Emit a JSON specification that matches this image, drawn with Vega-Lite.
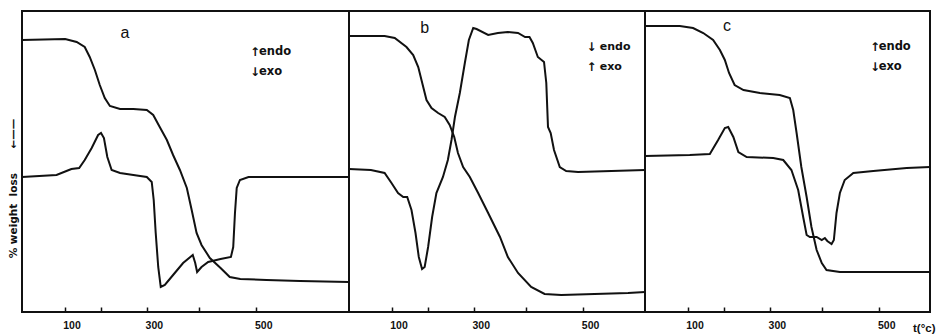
{
  "$schema": "https://vega.github.io/schema/vega-lite/v6.json",
  "autosize": {"type": "pad"},
  "padding": {"left": 7, "top": 10, "right": 0, "bottom": 0},
  "background": "white",
  "spacing": 0,
  "bounds": "flush",
  "config": {
    "view": {"stroke": "#111", "strokeWidth": 2},
    "axis": {"grid": false, "domain": false},
    "text": {"color": "#111"}
  },
  "datasets": {
    "curves": [
      {"p":"a","c":"tg","t":-92,"v":272},{"p":"a","c":"tg","t":102,"v":273},{"p":"a","c":"tg","t":136,"v":270},{"p":"a","c":"tg","t":158,"v":265},{"p":"a","c":"tg","t":171,"v":255},{"p":"a","c":"tg","t":184,"v":242},{"p":"a","c":"tg","t":196,"v":227},{"p":"a","c":"tg","t":208,"v":214},{"p":"a","c":"tg","t":220,"v":206},{"p":"a","c":"tg","t":243,"v":203},{"p":"a","c":"tg","t":272,"v":203},{"p":"a","c":"tg","t":300,"v":202},{"p":"a","c":"tg","t":313,"v":197},{"p":"a","c":"tg","t":326,"v":185},{"p":"a","c":"tg","t":340,"v":172},{"p":"a","c":"tg","t":352,"v":157},{"p":"a","c":"tg","t":365,"v":142},{"p":"a","c":"tg","t":378,"v":124},{"p":"a","c":"tg","t":387,"v":102},{"p":"a","c":"tg","t":396,"v":79},{"p":"a","c":"tg","t":405,"v":67},{"p":"a","c":"tg","t":420,"v":54},{"p":"a","c":"tg","t":439,"v":44},{"p":"a","c":"tg","t":455,"v":35},{"p":"a","c":"tg","t":473,"v":33},{"p":"a","c":"tg","t":517,"v":32},{"p":"a","c":"tg","t":571,"v":31},{"p":"a","c":"tg","t":646,"v":30},
      {"p":"a","c":"dta","t":-92,"v":135},{"p":"a","c":"dta","t":73,"v":137},{"p":"a","c":"dta","t":106,"v":141},{"p":"a","c":"dta","t":121,"v":143},{"p":"a","c":"dta","t":143,"v":144},{"p":"a","c":"dta","t":158,"v":152},{"p":"a","c":"dta","t":176,"v":164},{"p":"a","c":"dta","t":192,"v":177},{"p":"a","c":"dta","t":199,"v":179},{"p":"a","c":"dta","t":206,"v":174},{"p":"a","c":"dta","t":214,"v":155},{"p":"a","c":"dta","t":224,"v":142},{"p":"a","c":"dta","t":243,"v":139},{"p":"a","c":"dta","t":272,"v":137},{"p":"a","c":"dta","t":300,"v":135},{"p":"a","c":"dta","t":310,"v":130},{"p":"a","c":"dta","t":314,"v":112},{"p":"a","c":"dta","t":318,"v":79},{"p":"a","c":"dta","t":323,"v":45},{"p":"a","c":"dta","t":328,"v":25},{"p":"a","c":"dta","t":336,"v":27},{"p":"a","c":"dta","t":352,"v":37},{"p":"a","c":"dta","t":371,"v":49},{"p":"a","c":"dta","t":389,"v":57},{"p":"a","c":"dta","t":393.5,"v":49},{"p":"a","c":"dta","t":397,"v":40},{"p":"a","c":"dta","t":405,"v":45},{"p":"a","c":"dta","t":417,"v":50},{"p":"a","c":"dta","t":439,"v":53},{"p":"a","c":"dta","t":457,"v":55},{"p":"a","c":"dta","t":461,"v":65},{"p":"a","c":"dta","t":464,"v":99},{"p":"a","c":"dta","t":467,"v":124},{"p":"a","c":"dta","t":472.5,"v":132},{"p":"a","c":"dta","t":487,"v":135},{"p":"a","c":"dta","t":544,"v":135},{"p":"a","c":"dta","t":646,"v":135},
      {"p":"b","c":"tg","t":-92,"v":276},{"p":"b","c":"tg","t":77,"v":276},{"p":"b","c":"tg","t":110,"v":274},{"p":"b","c":"tg","t":144,"v":265},{"p":"b","c":"tg","t":162,"v":257},{"p":"b","c":"tg","t":175,"v":245},{"p":"b","c":"tg","t":185,"v":229},{"p":"b","c":"tg","t":195.5,"v":212},{"p":"b","c":"tg","t":207.5,"v":204},{"p":"b","c":"tg","t":223,"v":199},{"p":"b","c":"tg","t":238,"v":195},{"p":"b","c":"tg","t":249,"v":187},{"p":"b","c":"tg","t":259,"v":175},{"p":"b","c":"tg","t":267,"v":159},{"p":"b","c":"tg","t":278,"v":145},{"p":"b","c":"tg","t":292,"v":135},{"p":"b","c":"tg","t":309,"v":119},{"p":"b","c":"tg","t":329,"v":99},{"p":"b","c":"tg","t":352,"v":75},{"p":"b","c":"tg","t":367,"v":55},{"p":"b","c":"tg","t":386,"v":39},{"p":"b","c":"tg","t":410,"v":25},{"p":"b","c":"tg","t":434,"v":18},{"p":"b","c":"tg","t":463,"v":17},{"p":"b","c":"tg","t":519,"v":18},{"p":"b","c":"tg","t":573,"v":19},{"p":"b","c":"tg","t":599.5,"v":20},
      {"p":"b","c":"dta","t":-92,"v":143},{"p":"b","c":"dta","t":17,"v":142},{"p":"b","c":"dta","t":77,"v":139},{"p":"b","c":"dta","t":100,"v":129},{"p":"b","c":"dta","t":120,"v":119},{"p":"b","c":"dta","t":135,"v":115},{"p":"b","c":"dta","t":146,"v":115},{"p":"b","c":"dta","t":157.5,"v":102},{"p":"b","c":"dta","t":168,"v":79},{"p":"b","c":"dta","t":176.4,"v":55},{"p":"b","c":"dta","t":184.6,"v":43},{"p":"b","c":"dta","t":191,"v":45},{"p":"b","c":"dta","t":199.4,"v":65},{"p":"b","c":"dta","t":209,"v":95},{"p":"b","c":"dta","t":219,"v":119},{"p":"b","c":"dta","t":234,"v":135},{"p":"b","c":"dta","t":245,"v":152},{"p":"b","c":"dta","t":253,"v":172},{"p":"b","c":"dta","t":260.5,"v":195},{"p":"b","c":"dta","t":271,"v":219},{"p":"b","c":"dta","t":281.6,"v":249},{"p":"b","c":"dta","t":290,"v":272},{"p":"b","c":"dta","t":299,"v":284},{"p":"b","c":"dta","t":305.8,"v":283},{"p":"b","c":"dta","t":329,"v":277},{"p":"b","c":"dta","t":348,"v":279},{"p":"b","c":"dta","t":367,"v":280},{"p":"b","c":"dta","t":386,"v":279},{"p":"b","c":"dta","t":399,"v":275},{"p":"b","c":"dta","t":407,"v":275},{"p":"b","c":"dta","t":413,"v":269},{"p":"b","c":"dta","t":422,"v":255},{"p":"b","c":"dta","t":433,"v":250},{"p":"b","c":"dta","t":437,"v":229},{"p":"b","c":"dta","t":440,"v":185},{"p":"b","c":"dta","t":444.7,"v":179},{"p":"b","c":"dta","t":450.5,"v":162},{"p":"b","c":"dta","t":460.5,"v":145},{"p":"b","c":"dta","t":471.5,"v":141},{"p":"b","c":"dta","t":491.6,"v":140},{"p":"b","c":"dta","t":546.6,"v":141},{"p":"b","c":"dta","t":599.5,"v":142},
      {"p":"c","c":"tg","t":-92,"v":286},{"p":"c","c":"tg","t":74,"v":286},{"p":"c","c":"tg","t":117,"v":284},{"p":"c","c":"tg","t":146,"v":279},{"p":"c","c":"tg","t":172,"v":272},{"p":"c","c":"tg","t":189,"v":262},{"p":"c","c":"tg","t":201,"v":252},{"p":"c","c":"tg","t":211,"v":239},{"p":"c","c":"tg","t":224,"v":227},{"p":"c","c":"tg","t":244,"v":222},{"p":"c","c":"tg","t":279.5,"v":219},{"p":"c","c":"tg","t":320,"v":217},{"p":"c","c":"tg","t":340,"v":214},{"p":"c","c":"tg","t":346.5,"v":202},{"p":"c","c":"tg","t":353,"v":179},{"p":"c","c":"tg","t":362,"v":145},{"p":"c","c":"tg","t":372,"v":115},{"p":"c","c":"tg","t":381,"v":85},{"p":"c","c":"tg","t":390.6,"v":62},{"p":"c","c":"tg","t":400,"v":49},{"p":"c","c":"tg","t":408.6,"v":42},{"p":"c","c":"tg","t":432.5,"v":40},{"p":"c","c":"tg","t":490,"v":40},{"p":"c","c":"tg","t":582,"v":40},
      {"p":"c","c":"dta","t":-92,"v":156},{"p":"c","c":"dta","t":107,"v":157},{"p":"c","c":"dta","t":163.5,"v":158},{"p":"c","c":"dta","t":184.6,"v":172},{"p":"c","c":"dta","t":201,"v":184},{"p":"c","c":"dta","t":209,"v":185},{"p":"c","c":"dta","t":221,"v":175},{"p":"c","c":"dta","t":232.5,"v":160},{"p":"c","c":"dta","t":251,"v":155},{"p":"c","c":"dta","t":307,"v":154},{"p":"c","c":"dta","t":327,"v":152},{"p":"c","c":"dta","t":343,"v":142},{"p":"c","c":"dta","t":356,"v":122},{"p":"c","c":"dta","t":365.5,"v":95},{"p":"c","c":"dta","t":372,"v":77},{"p":"c","c":"dta","t":378,"v":75},{"p":"c","c":"dta","t":390.6,"v":75},{"p":"c","c":"dta","t":400,"v":72},{"p":"c","c":"dta","t":405.6,"v":74},{"p":"c","c":"dta","t":410,"v":71},{"p":"c","c":"dta","t":417.7,"v":68},{"p":"c","c":"dta","t":421.8,"v":72},{"p":"c","c":"dta","t":426.5,"v":99},{"p":"c","c":"dta","t":432.5,"v":119},{"p":"c","c":"dta","t":441,"v":132},{"p":"c","c":"dta","t":456,"v":139},{"p":"c","c":"dta","t":490,"v":141},{"p":"c","c":"dta","t":545,"v":144},{"p":"c","c":"dta","t":582,"v":145}
    ],
    "notes": [
      {"p":"a","k":"id","t":254,"v":279,"txt":"a"},
      {"p":"a","k":"arr","t":497.8,"v":260,"txt":"↑"},
      {"p":"a","k":"arr","t":497.8,"v":240,"txt":"↓"},
      {"p":"a","k":"word","t":504.6,"v":260,"txt":"endo"},
      {"p":"a","k":"word","t":504.6,"v":240,"txt":"exo"},
      {"p":"b","k":"id","t":191,"v":284,"txt":"b"},
      {"p":"b","k":"arr","t":514,"v":265,"txt":"↓"},
      {"p":"b","k":"arr","t":514,"v":245,"txt":"↑"},
      {"p":"b","k":"word","t":527.6,"v":265,"txt":"endo"},
      {"p":"b","k":"word","t":527.6,"v":245,"txt":"exo"},
      {"p":"c","k":"id","t":206,"v":286,"txt":"c"},
      {"p":"c","k":"arr","t":492.8,"v":265,"txt":"↑"},
      {"p":"c","k":"arr","t":492.8,"v":245,"txt":"↓"},
      {"p":"c","k":"word","t":499,"v":265,"txt":"endo"},
      {"p":"c","k":"word","t":499,"v":245,"txt":"exo"}
    ]
  },
  "resolve": {"scale": {"x": "independent", "y": "independent"}},
  "hconcat": [
    {
      "width": 327, "height": 301,
      "layer": [
        {
          "data": {"name": "curves"},
          "transform": [{"filter": "datum.p == 'a'"}],
          "mark": {"type": "line", "color": "#111", "strokeWidth": 2},
          "encoding": {
            "x": {"field": "t", "type": "quantitative",
              "scale": {"type": "pow", "exponent": 1.4, "domain": [-92, 646.5], "nice": false, "zero": false},
              "axis": {"title": null, "values": [100, 200, 300, 400, 500], "labelExpr": "datum.value == 200 || datum.value == 400 ? '' : datum.label", "offset": -5, "tickSize": 5, "tickWidth": 1.5, "tickColor": "#111", "labelOffset": 7, "labelPadding": 8, "labelFont": "Liberation Sans", "labelFontWeight": "bold", "labelFontSize": 10.5, "labelColor": "#111", "labelFlush": false, "labelOverlap": false, "zindex": 1}},
            "y": {"field": "v", "type": "quantitative",
              "scale": {"domain": [0, 301], "nice": false, "zero": false},
              "axis": {"title": "%\u00a0weight\u00a0\u00a0loss\u2003\u2003\u00a0←——", "labels": false, "ticks": false, "titleX": -9, "titleY": 177, "titleAngle": -90, "titleAlign": "center", "titleBaseline": "middle", "titleFont": "DejaVu Sans", "titleFontWeight": "bold", "titleFontSize": 10.5, "titleColor": "#111"}},
            "detail": {"field": "c"}
          }
        },
        {
          "data": {"name": "notes"},
          "transform": [{"filter": "datum.p == 'a' && datum.k == 'id'"}],
          "mark": {"type": "text", "font": "Liberation Sans", "fontSize": 16, "align": "center", "baseline": "middle"},
          "encoding": {"x": {"field": "t", "type": "quantitative"}, "y": {"field": "v", "type": "quantitative"}, "text": {"field": "txt"}}
        },
        {
          "data": {"name": "notes"},
          "transform": [{"filter": "datum.p == 'a' && datum.k == 'arr'"}],
          "mark": {"type": "text", "font": "DejaVu Sans", "fontWeight": "bold", "fontSize": 12, "align": "center", "baseline": "middle"},
          "encoding": {"x": {"field": "t", "type": "quantitative"}, "y": {"field": "v", "type": "quantitative"}, "text": {"field": "txt"}}
        },
        {
          "data": {"name": "notes"},
          "transform": [{"filter": "datum.p == 'a' && datum.k == 'word'"}],
          "mark": {"type": "text", "font": "DejaVu Sans", "fontWeight": "bold", "fontSize": 11.5, "align": "left", "baseline": "middle"},
          "encoding": {"x": {"field": "t", "type": "quantitative"}, "y": {"field": "v", "type": "quantitative"}, "text": {"field": "txt"}}
        }
      ]
    },
    {
      "width": 296, "height": 301,
      "layer": [
        {
          "data": {"name": "curves"},
          "transform": [{"filter": "datum.p == 'b'"}],
          "mark": {"type": "line", "color": "#111", "strokeWidth": 2},
          "encoding": {
            "x": {"field": "t", "type": "quantitative",
              "scale": {"type": "pow", "exponent": 1.4, "domain": [-92, 599.5], "nice": false, "zero": false},
              "axis": {"title": null, "values": [100, 200, 300, 400, 500], "labelExpr": "datum.value == 200 || datum.value == 400 ? '' : datum.label", "offset": -5, "tickSize": 5, "tickWidth": 1.5, "tickColor": "#111", "labelOffset": 7, "labelPadding": 8, "labelFont": "Liberation Sans", "labelFontWeight": "bold", "labelFontSize": 10.5, "labelColor": "#111", "labelFlush": false, "labelOverlap": false, "zindex": 1}},
            "y": {"field": "v", "type": "quantitative",
              "scale": {"domain": [0, 301], "nice": false, "zero": false},
              "axis": null},
            "detail": {"field": "c"}
          }
        },
        {
          "data": {"name": "notes"},
          "transform": [{"filter": "datum.p == 'b' && datum.k == 'id'"}],
          "mark": {"type": "text", "font": "Liberation Sans", "fontSize": 16, "align": "center", "baseline": "middle"},
          "encoding": {"x": {"field": "t", "type": "quantitative"}, "y": {"field": "v", "type": "quantitative"}, "text": {"field": "txt"}}
        },
        {
          "data": {"name": "notes"},
          "transform": [{"filter": "datum.p == 'b' && datum.k == 'arr'"}],
          "mark": {"type": "text", "font": "DejaVu Sans", "fontWeight": "bold", "fontSize": 12, "align": "center", "baseline": "middle"},
          "encoding": {"x": {"field": "t", "type": "quantitative"}, "y": {"field": "v", "type": "quantitative"}, "text": {"field": "txt"}}
        },
        {
          "data": {"name": "notes"},
          "transform": [{"filter": "datum.p == 'b' && datum.k == 'word'"}],
          "mark": {"type": "text", "font": "DejaVu Sans", "fontWeight": "bold", "fontSize": 11, "align": "left", "baseline": "middle"},
          "encoding": {"x": {"field": "t", "type": "quantitative"}, "y": {"field": "v", "type": "quantitative"}, "text": {"field": "txt"}}
        }
      ]
    },
    {
      "width": 285, "height": 301,
      "layer": [
        {
          "data": {"name": "curves"},
          "transform": [{"filter": "datum.p == 'c'"}],
          "mark": {"type": "line", "color": "#111", "strokeWidth": 2},
          "encoding": {
            "x": {"field": "t", "type": "quantitative",
              "scale": {"type": "pow", "exponent": 1.4, "domain": [-92, 582], "nice": false, "zero": false},
              "axis": {"values": [100, 200, 300, 400, 500], "labelExpr": "datum.value == 200 || datum.value == 400 ? '' : datum.label", "offset": -5, "tickSize": 5, "tickWidth": 1.5, "tickColor": "#111", "labelOffset": 7, "labelPadding": 8, "labelFont": "Liberation Sans", "labelFontWeight": "bold", "labelFontSize": 10.5, "labelColor": "#111", "labelFlush": false, "labelOverlap": false, "zindex": 1,
                "title": "t(°c)", "titleX": 290, "titleY": 21, "titleAlign": "right", "titleBaseline": "middle", "titleFont": "Liberation Sans", "titleFontWeight": "bold", "titleFontSize": 11.5, "titleColor": "#111"}},
            "y": {"field": "v", "type": "quantitative",
              "scale": {"domain": [0, 301], "nice": false, "zero": false},
              "axis": null},
            "detail": {"field": "c"}
          }
        },
        {
          "data": {"name": "notes"},
          "transform": [{"filter": "datum.p == 'c' && datum.k == 'id'"}],
          "mark": {"type": "text", "font": "Liberation Sans", "fontSize": 16, "align": "center", "baseline": "middle"},
          "encoding": {"x": {"field": "t", "type": "quantitative"}, "y": {"field": "v", "type": "quantitative"}, "text": {"field": "txt"}}
        },
        {
          "data": {"name": "notes"},
          "transform": [{"filter": "datum.p == 'c' && datum.k == 'arr'"}],
          "mark": {"type": "text", "font": "DejaVu Sans", "fontWeight": "bold", "fontSize": 12, "align": "center", "baseline": "middle"},
          "encoding": {"x": {"field": "t", "type": "quantitative"}, "y": {"field": "v", "type": "quantitative"}, "text": {"field": "txt"}}
        },
        {
          "data": {"name": "notes"},
          "transform": [{"filter": "datum.p == 'c' && datum.k == 'word'"}],
          "mark": {"type": "text", "font": "DejaVu Sans", "fontWeight": "bold", "fontSize": 11.5, "align": "left", "baseline": "middle"},
          "encoding": {"x": {"field": "t", "type": "quantitative"}, "y": {"field": "v", "type": "quantitative"}, "text": {"field": "txt"}}
        }
      ]
    }
  ]
}
